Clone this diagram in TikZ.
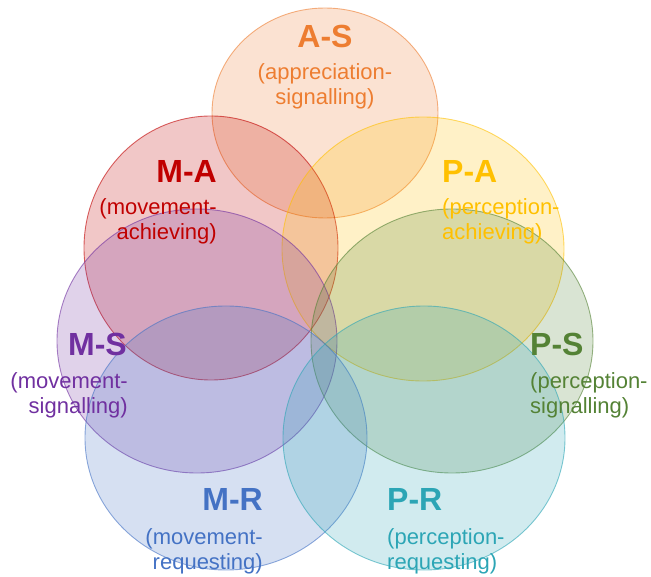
\documentclass[tikz,border=0pt]{standalone}
\usepackage{fontspec}
\setmainfont{Liberation Sans}
\usetikzlibrary{positioning}

\definecolor{asorange}{HTML}{ED7D31}
\definecolor{mared}{HTML}{C00000}
\definecolor{payellow}{HTML}{FFC000}
\definecolor{mspurple}{HTML}{7030A0}
\definecolor{psgreen}{HTML}{548235}
\definecolor{mrblue}{HTML}{4472C4}
\definecolor{prteal}{HTML}{2CA5B5}

\begin{document}
\begin{tikzpicture}[x=1pt, y=-1pt,
    blob/.style={draw=#1, draw opacity=0.6, fill=#1, fill opacity=0.22, line width=0.9pt},
    title/.style={text=#1, font=\fontsize{32}{32}\selectfont\bfseries, inner sep=0pt},
    sub/.style={text=#1, font=\fontsize{22}{25}\selectfont, inner sep=0pt}]
    \useasboundingbox (0,0) rectangle (651,577);

    % the seven ellipses
    \fill[blob=asorange] (325,113) circle [x radius=113pt, y radius=105pt];
    \fill[blob=mared] (211,248) circle [x radius=127pt, y radius=132pt];
    \fill[blob=payellow] (423,249) circle [x radius=141pt, y radius=132pt];
    \fill[blob=mspurple] (197,341) circle [x radius=140pt, y radius=132pt];
    \fill[blob=psgreen] (452,341) circle [x radius=141pt, y radius=132pt];
    \fill[blob=mrblue] (226,438) circle [x radius=141pt, y radius=132pt];
    \fill[blob=prteal] (424,438) circle [x radius=141pt, y radius=132pt];

    % labels
    \node[title=asorange, anchor=north] (as) at (325,25) {A-S};
    \node[sub=asorange, anchor=north, align=center] (assub) at (325,63) {(appreciation-\\signalling)};

    \node[title=mared, anchor=north east] (ma) at (217,160) {M-A};
    \node[sub=mared, anchor=north east, align=right] (masub) at (217,198) {(movement-\\achieving)};

    \node[title=payellow, anchor=north west] (pa) at (442,160) {P-A};
    \node[sub=payellow, anchor=north west, align=left] (pasub) at (442,198) {(perception-\\achieving)};

    \node[title=mspurple, anchor=north east] (ms) at (127,333) {M-S};
    \node[sub=mspurple, anchor=north east, align=right] (mssub) at (128,372) {(movement-\\signalling)};

    \node[title=psgreen, anchor=north west] (ps) at (530,333) {P-S};
    \node[sub=psgreen, anchor=north west, align=left] (pssub) at (530,372) {(perception-\\signalling)};

    \node[title=mrblue, anchor=north east] (mr) at (263,488) {M-R};
    \node[sub=mrblue, anchor=north east, align=right] (mrsub) at (263,528) {(movement-\\requesting)};

    \node[title=prteal, anchor=north west] (pr) at (387,488) {P-R};
    \node[sub=prteal, anchor=north west, align=left] (prsub) at (387,528) {(perception-\\requesting)};
\end{tikzpicture}
\end{document}
